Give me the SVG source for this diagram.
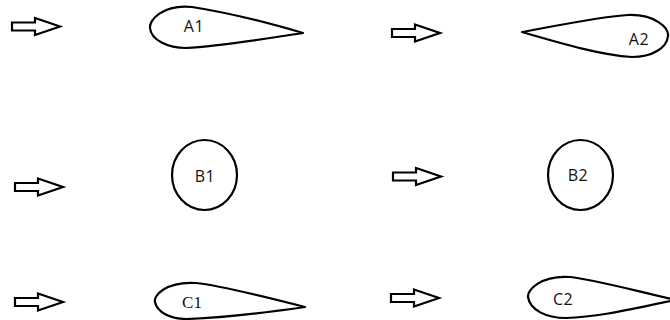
<svg xmlns="http://www.w3.org/2000/svg" xmlns:xlink="http://www.w3.org/1999/xlink" width="670" height="320" viewBox="0 0 670 320">
  <style>
    .shape { fill: none; stroke: #000; stroke-width: 2.2; stroke-linejoin: round; }
    .arrow { fill: #fff; stroke: #000; stroke-width: 2.2; stroke-linejoin: miter; }
    .lbl { font-family: "Open Sans", "Liberation Sans", sans-serif; font-size: 16px; fill: #111; text-anchor: middle; letter-spacing: 0.5px; }
    .lbls { font-family: "Liberation Serif", serif; font-size: 17px; fill: #111; text-anchor: middle; }
  </style>
  <defs>
    <polygon id="arr" class="arrow" points="0,-4 23,-4 23,-8.5 48,0 23,8.5 23,4 0,4"/>
  </defs>
  <rect width="670" height="320" fill="#fff"/>
  <g id="arrows">
    <use xlink:href="#arr" x="12" y="26.5"/>
    <use xlink:href="#arr" x="392" y="33"/>
    <use xlink:href="#arr" x="15" y="187"/>
    <use xlink:href="#arr" x="393" y="176.5"/>
    <use xlink:href="#arr" x="15" y="302"/>
    <use xlink:href="#arr" x="391" y="298"/>
  </g>
  <g id="A1">
    <path class="shape" d="M303,33 C262,21 218,11 192,7 C163,4 149,20 150,28 C151,40 168,48 186,48 C222,46 270,38 303,33 Z"/>
    <text class="lbl" x="194" y="32">A1</text>
  </g>
  <g id="A2">
    <path class="shape" d="M522,32 C560,25 605,16 628,15 C655,14 669,28 668,36 C667,48 652,57 632,57 C600,55 560,43 522,32 Z"/>
    <text class="lbl" x="639" y="45">A2</text>
  </g>
  <g id="B1">
    <ellipse class="shape" cx="204.5" cy="175" rx="32.5" ry="35"/>
    <text class="lbl" x="205" y="182">B1</text>
  </g>
  <g id="B2">
    <ellipse class="shape" cx="580.5" cy="175" rx="32.5" ry="35"/>
    <text class="lbl" x="578" y="181">B2</text>
  </g>
  <g id="C1">
    <path class="shape" d="M305,307 C262,296 218,285 196,283 C166,281 153,296 155,302 C157,312 170,319 186,319 C222,318 270,312 305,307 Z"/>
    <text class="lbls" x="192" y="308">C1</text>
  </g>
  <g id="C2">
    <path class="shape" d="M676,300 C632,290 592,279 570,277 C541,275 527,290 528,297 C530,310 546,318 566,318 C602,317 640,307 676,300 Z"/>
    <text class="lbl" x="563" y="305">C2</text>
  </g>
</svg>
